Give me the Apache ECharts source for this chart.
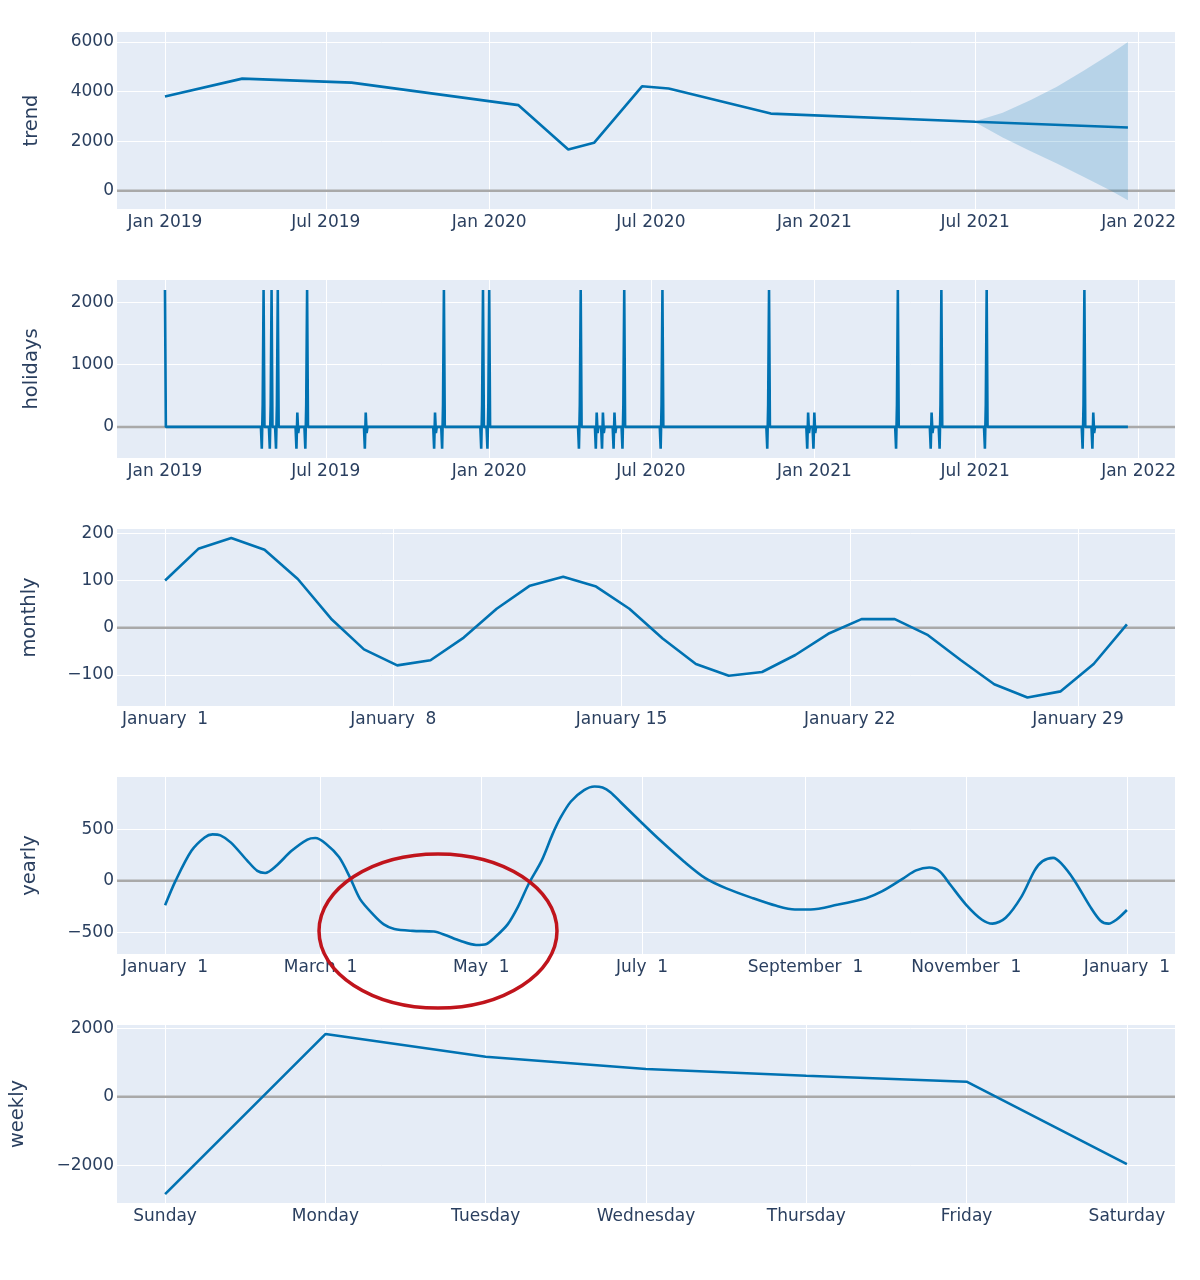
<!DOCTYPE html>
<html><head><meta charset="utf-8">
<script src="https://cdn.jsdelivr.net/npm/echarts@6/dist/echarts.min.js"></script>
<style>html,body{margin:0;padding:0;background:#fff}#c{width:1200px;height:1280px}</style>
</head><body><div id="c"></div>
<script>
// ---------- data ----------
const trendDates  = ['2019-01-01','2019-03-29','2019-07-30','2020-02-03','2020-03-30','2020-04-28','2020-06-21','2020-07-21','2020-11-13','2021-07-01','2021-12-20'];
const trendValues = [3800, 4520, 4360, 3450, 1660, 1930, 4210, 4120, 3110, 2780, 2550];

const bandDates = ['2021-07-01','2021-08-01','2021-09-01','2021-10-01','2021-11-01','2021-12-01','2021-12-20'];
const bandUpper = [2800, 3140, 3650, 4190, 4860, 5530, 6000];
const bandLower = [2760, 2150, 1600, 1100, 540, 0, -380];

const holidayPoints = [
 ['2019-01-01',2200],['2019-01-02',0],
 ['2019-04-19',0],['2019-04-20',-350],['2019-04-21',350],['2019-04-22',2200],['2019-04-23',0],
 ['2019-04-28',0],['2019-04-29',-350],['2019-04-30',350],['2019-05-01',2200],['2019-05-02',0],
 ['2019-05-05',0],['2019-05-06',-350],['2019-05-07',350],['2019-05-08',2200],['2019-05-09',0],
 ['2019-05-28',0],['2019-05-29',-350],['2019-05-30',230],['2019-05-31',-100],['2019-06-01',0],
 ['2019-06-07',0],['2019-06-08',-350],['2019-06-09',350],['2019-06-10',2200],['2019-06-11',0],
 ['2019-08-13',0],['2019-08-14',-350],['2019-08-15',230],['2019-08-16',-100],['2019-08-17',0],
 ['2019-10-30',0],['2019-10-31',-350],['2019-11-01',230],['2019-11-02',-100],['2019-11-03',0],
 ['2019-11-08',0],['2019-11-09',-350],['2019-11-10',350],['2019-11-11',2200],['2019-11-12',0],
 ['2019-12-22',0],['2019-12-23',-350],['2019-12-24',350],['2019-12-25',2200],['2019-12-26',0],
 ['2019-12-29',0],['2019-12-30',-350],['2019-12-31',350],['2020-01-01',2200],['2020-01-02',0],
 ['2020-04-10',0],['2020-04-11',-350],['2020-04-12',350],['2020-04-13',2200],['2020-04-14',0],
 ['2020-04-29',0],['2020-04-30',-350],['2020-05-01',230],['2020-05-02',-100],['2020-05-03',0],
 ['2020-05-06',0],['2020-05-07',-350],['2020-05-08',230],['2020-05-09',-100],['2020-05-10',0],
 ['2020-05-19',0],['2020-05-20',-350],['2020-05-21',230],['2020-05-22',-100],['2020-05-23',0],
 ['2020-05-29',0],['2020-05-30',-350],['2020-05-31',350],['2020-06-01',2200],['2020-06-02',0],
 ['2020-07-11',0],['2020-07-12',-350],['2020-07-13',350],['2020-07-14',2200],['2020-07-15',0],
 ['2020-11-08',0],['2020-11-09',-350],['2020-11-10',350],['2020-11-11',2200],['2020-11-12',0],
 ['2020-12-23',0],['2020-12-24',-350],['2020-12-25',230],['2020-12-26',-100],['2020-12-27',0],
 ['2020-12-30',0],['2020-12-31',-350],['2021-01-01',230],['2021-01-02',-100],['2021-01-03',0],
 ['2021-04-02',0],['2021-04-03',-350],['2021-04-04',350],['2021-04-05',2200],['2021-04-06',0],
 ['2021-05-11',0],['2021-05-12',-350],['2021-05-13',230],['2021-05-14',-100],['2021-05-15',0],
 ['2021-05-21',0],['2021-05-22',-350],['2021-05-23',350],['2021-05-24',2200],['2021-05-25',0],
 ['2021-07-11',0],['2021-07-12',-350],['2021-07-13',350],['2021-07-14',2200],['2021-07-15',0],
 ['2021-10-29',0],['2021-10-30',-350],['2021-10-31',350],['2021-11-01',2200],['2021-11-02',0],
 ['2021-11-09',0],['2021-11-10',-350],['2021-11-11',230],['2021-11-12',-100],['2021-11-13',0],
 ['2021-12-20',0]
];

const monthDays   = [0,1.02,2.03,3.05,4.07,5.09,6.10,7.12,8.14,9.16,10.17,11.19,12.21,13.22,14.24,15.26,16.28,17.29,18.31,19.33,20.34,21.36,22.38,23.40,24.41,25.43,26.45,27.47,28.48,29.50];
const monthValues = [100,167,190,165,103,19,-46,-80,-69,-21,40,89,108,87,40,-23,-77,-102,-94,-58,-13,18,18,-16,-69,-120,-148,-135,-77,7];

const yearDays   = [0,4,10,15,18,21,25,31,35,38,42,48,54,57,61,66,70,74,79,83,87,94,102,106,112,118,122,125,130,134,138,143,147,150,154,159,163,166,169,173,180,188,197,205,213,223,232,239,245,255,266,272,280,285,290,294,298,304,310,314,319,325,330,333,337,340,345,351,355,358,361,365];
const yearValues = [-240,0,290,420,450,440,370,200,95,75,140,290,400,415,360,230,40,-180,-330,-425,-470,-488,-495,-525,-585,-625,-615,-555,-425,-250,-30,200,450,610,770,880,915,905,860,760,585,390,185,25,-75,-170,-245,-280,-280,-235,-170,-105,20,100,128,90,-40,-235,-380,-418,-360,-155,100,190,222,170,5,-250,-390,-418,-380,-285];

const weekDays   = ['Sunday','Monday','Tuesday','Wednesday','Thursday','Friday','Saturday'];
const weekValues = [-2840, 1830, 1170, 810, 615, 440, -1965];

// tick labels
const dateTicks      = ['2019-01-01','2019-07-01','2020-01-01','2020-07-01','2021-01-01','2021-07-01','2022-01-01'];
const dateTickLabels = ['Jan 2019','Jul 2019','Jan 2020','Jul 2020','Jan 2021','Jul 2021','Jan 2022'];
const monthTicks      = [0,7,14,21,28];
const monthTickLabels = ['January  1','January  8','January 15','January 22','January 29'];
const yearTicks      = [0,59,120,181,243,304,365];
const yearTickLabels = ['January  1','March  1','May  1','July  1','September  1','November  1','January  1'];
const weekTicks = [0,1,2,3,4,5,6];

const trendTicks = [0,2000,4000,6000];
const holTicks   = [0,1000,2000];
const monTicksY  = [-100,0,100,200];
const yearTicksY = [-500,0,500];
const weekTicksY = [-2000,0,2000];

// ---------- helpers ----------
const T = s => Date.parse(s + 'T00:00:00Z');
const FONT = 'DejaVu Sans';
const TXT = '#2a3f5f';
const LINE = '#0072B2';
const fmtNum = v => (v < 0 ? '\u2212' + Math.abs(v) : String(v));

const dateMin = T('2018-11-08'), dateMax = T('2022-02-11');
const monMin = -1.475, monMax = 30.975;
const yearMin = -18.25, yearMax = 383.25;
const weekMin = -0.3, weekMax = 6.3;

const LEFT = 117, WIDTH = 1058;
const grids = [
  {top: 32,  height: 177},
  {top: 280, height: 178},
  {top: 529, height: 177},
  {top: 777, height: 177},
  {top: 1025, height: 178}
].map(g => ({left: LEFT, width: WIDTH, top: g.top, height: g.height, show: true,
  backgroundColor: '#E5ECF6', borderWidth: 0, containLabel: false, outerBoundsMode: 'none'}));

function xAxis(gi, min, max, ticks, labels) {
  return {
    gridIndex: gi, type: 'value', min: min, max: max,
    axisLine: {show: false}, axisTick: {show: false, customValues: ticks},
    axisLabel: {customValues: ticks, fontFamily: FONT, fontSize: 17, color: TXT, margin: 5,
      formatter: v => { const i = ticks.indexOf(v); return i >= 0 ? labels[i] : ''; }},
    splitLine: {show: true, lineStyle: {color: '#ffffff', width: 1}}
  };
}
function yAxis(gi, name, min, max, ticks, gap) {
  return {
    gridIndex: gi, type: 'value', min: min, max: max,
    name: name, nameLocation: 'middle', nameGap: gap,
    nameTextStyle: {fontFamily: FONT, fontSize: 19.5, color: TXT},
    axisLine: {show: false}, axisTick: {show: false, customValues: ticks},
    axisLabel: {customValues: ticks, fontFamily: FONT, fontSize: 17, color: TXT, margin: 3, formatter: fmtNum},
    splitLine: {show: true, lineStyle: {color: '#ffffff', width: 1}}
  };
}
function zeroLine(gi, xmin, xmax) {
  return {type: 'line', xAxisIndex: gi, yAxisIndex: gi, data: [[xmin, 0], [xmax, 0]],
    symbol: 'none', silent: true, z: 1, lineStyle: {color: '#a9a9a9', width: 2.5}};
}
function mainLine(gi, data, smooth) {
  return {type: 'line', xAxisIndex: gi, yAxisIndex: gi, data: data, symbol: 'none',
    smooth: smooth || false, silent: true, z: 3, lineStyle: {color: LINE, width: 2.6}};
}

const option = {
  animation: false,
  backgroundColor: '#ffffff',
  grid: grids,
  xAxis: [
    xAxis(0, dateMin, dateMax, dateTicks.map(T), dateTickLabels),
    xAxis(1, dateMin, dateMax, dateTicks.map(T), dateTickLabels),
    xAxis(2, monMin, monMax, monthTicks, monthTickLabels),
    xAxis(3, yearMin, yearMax, yearTicks, yearTickLabels),
    xAxis(4, weekMin, weekMax, weekTicks, weekDays)
  ],
  yAxis: [
    yAxis(0, 'trend', -737, 6400, trendTicks, 75),
    yAxis(1, 'holidays', -500, 2360, holTicks, 75),
    yAxis(2, 'monthly', -166, 209, monTicksY, 77),
    yAxis(3, 'yearly', -713, 1008, yearTicksY, 77),
    yAxis(4, 'weekly', -3100, 2095, weekTicksY, 89)
  ],
  series: [
    zeroLine(0, dateMin, dateMax),
    {type: 'custom', xAxisIndex: 0, yAxisIndex: 0, silent: true, z: 2, clip: true,
      data: bandDates.map((d, i) => [T(d), bandUpper[i], bandLower[i]]),
      encode: {x: 0, y: [1, 2]},
      renderItem: function (params, api) {
        if (params.dataIndex !== 0) return null;
        const pts = [];
        for (let i = 0; i < bandDates.length; i++) pts.push(api.coord([T(bandDates[i]), bandUpper[i]]));
        for (let i = bandDates.length - 1; i >= 0; i--) pts.push(api.coord([T(bandDates[i]), bandLower[i]]));
        return {type: 'polygon', shape: {points: pts}, style: {fill: 'rgba(0,114,178,0.2)', stroke: null}};
      }
    },
    mainLine(0, trendDates.map((d, i) => [T(d), trendValues[i]])),

    zeroLine(1, dateMin, dateMax),
    mainLine(1, holidayPoints.map(p => [T(p[0]), p[1]])),

    zeroLine(2, monMin, monMax),
    mainLine(2, monthDays.map((d, i) => [d, monthValues[i]])),

    zeroLine(3, yearMin, yearMax),
    mainLine(3, yearDays.map((d, i) => [d, yearValues[i]]), 0.3),

    zeroLine(4, weekMin, weekMax),
    mainLine(4, weekTicks.map((d, i) => [d, weekValues[i]]))
  ],
  graphic: [{
    type: 'ellipse', silent: true, z: 100,
    shape: {cx: 438, cy: 931, rx: 119, ry: 77},
    style: {fill: 'none', stroke: '#c0141c', lineWidth: 3.5}
  }]
};

const chart = echarts.init(document.getElementById('c'), null, {renderer: 'canvas'});
chart.setOption(option);
</script></body></html>
